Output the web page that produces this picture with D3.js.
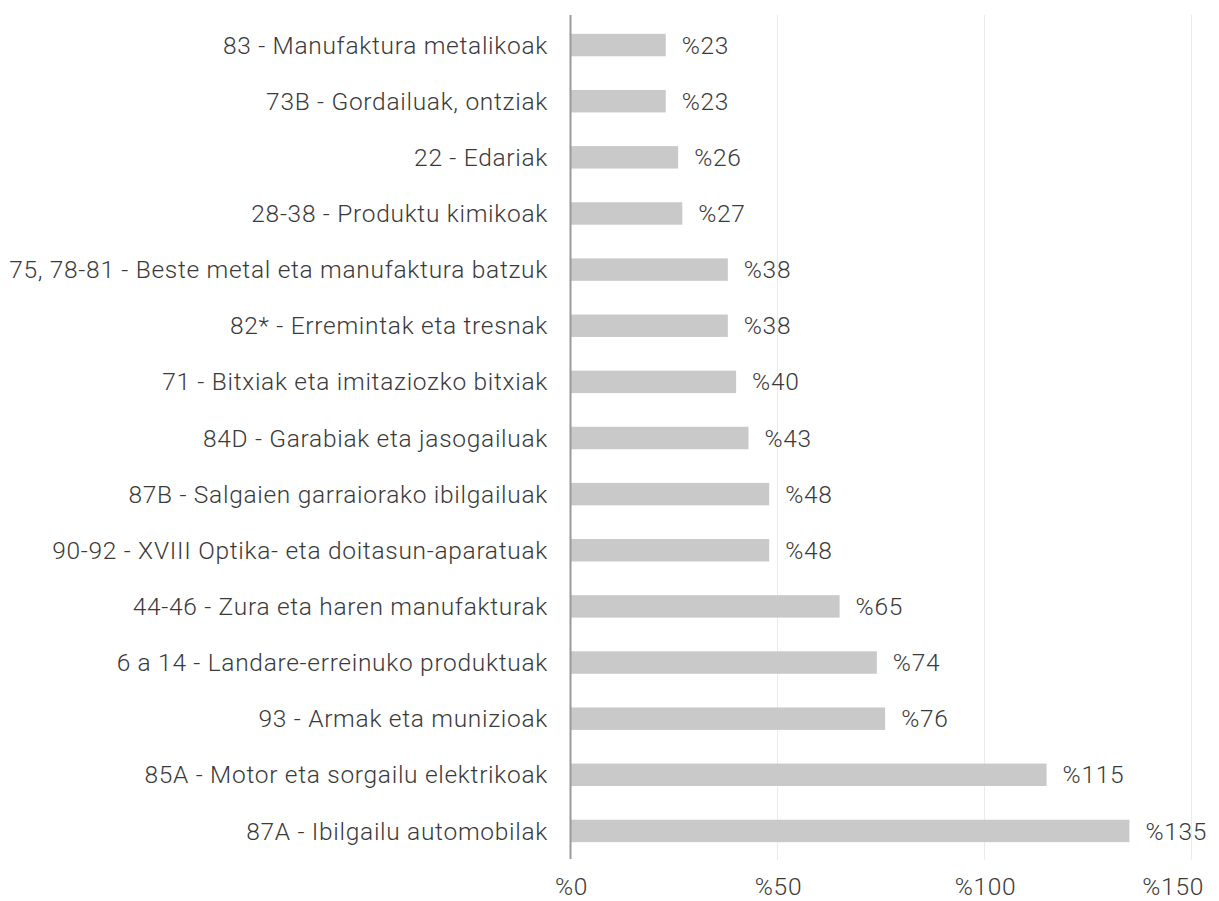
<!DOCTYPE html>
<html><head><meta charset="utf-8">
<script src="https://cdn.jsdelivr.net/npm/d3@7"></script>
<style>body{margin:0;background:#fff;} text{font-family:Roboto, "Noto Sans", sans-serif;font-weight:300;letter-spacing:0.7px;}</style>
</head><body>
<svg id="c" width="1219" height="901"></svg>
<script>
const categories = [
"83 - Manufaktura metalikoak",
"73B - Gordailuak, ontziak",
"22 - Edariak",
"28-38 - Produktu kimikoak",
"75, 78-81 - Beste metal eta manufaktura batzuk",
"82* - Erremintak eta tresnak",
"71 - Bitxiak eta imitaziozko bitxiak",
"84D - Garabiak eta jasogailuak",
"87B - Salgaien garraiorako ibilgailuak",
"90-92 - XVIII Optika- eta doitasun-aparatuak",
"44-46 - Zura eta haren manufakturak",
"6 a 14 - Landare-erreinuko produktuak",
"93 - Armak eta munizioak",
"85A - Motor eta sorgailu elektrikoak",
"87A - Ibilgailu automobilak"
];
const values = [23,23,26,27,38,38,40,43,48,48,65,74,76,115,135];
const ticks = [0,50,100,150];

const svg = d3.select("#c");
const x = d3.scaleLinear().domain([0,150]).range([570.5,1191.5]);
const y = d3.scaleBand().domain(categories).range([17,859]).paddingInner(0.6).paddingOuter(0.3);
const fs = 24.5;

svg.append("g").selectAll("line").data(ticks.slice(1)).join("line")
  .attr("x1",d=>x(d)).attr("x2",d=>x(d)).attr("y1",15).attr("y2",860)
  .attr("stroke","#ebebeb").attr("stroke-width",1);

svg.append("g").selectAll("rect").data(values).join("rect")
  .attr("x",x(0)).attr("y",(d,i)=>y(categories[i]))
  .attr("width",d=>x(d)-x(0)).attr("height",y.bandwidth())
  .attr("fill","#c9c9c9");

svg.append("line").attr("x1",x(0)).attr("x2",x(0)).attr("y1",15).attr("y2",859)
  .attr("stroke","#9a9a9a").attr("stroke-width",2);

svg.append("g").selectAll("text").data(values).join("text")
  .attr("x",d=>x(d)+16).attr("y",(d,i)=>y(categories[i])+y.bandwidth()/2)
  .attr("dy","0.35em").attr("font-size",fs).attr("fill","#3a3a3a")
  .text(d=>"%"+d);

svg.append("g").selectAll("text").data(categories).join("text")
  .attr("x",548).attr("y",d=>y(d)+y.bandwidth()/2).attr("dy","0.35em")
  .attr("text-anchor","end").attr("font-size",fs).attr("fill","#3a3a3a")
  .text(d=>d);

svg.append("g").selectAll("text").data(ticks).join("text")
  .attr("x",(d,i)=>i===ticks.length-1 ? 1204 : x(d)+1)
  .attr("y",886).attr("dy","0.35em")
  .attr("text-anchor",(d,i)=>i===ticks.length-1 ? "end" : "middle")
  .attr("font-size",fs).attr("fill","#3a3a3a")
  .text(d=>"%"+d);
</script>
</body></html>
